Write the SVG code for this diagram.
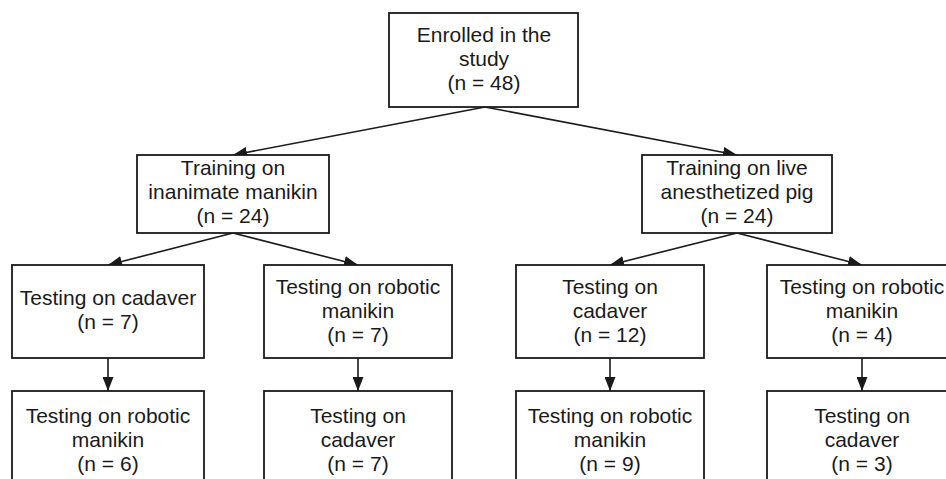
<svg xmlns="http://www.w3.org/2000/svg" width="946" height="479" viewBox="0 0 946 479">
<style>
.box{fill:#fff;stroke:#1a1a1a;stroke-width:1.8}
.t{font-family:"Liberation Sans",Arial,sans-serif;font-size:21px;fill:#1a1a1a;text-anchor:middle}
.c{stroke:#1a1a1a;stroke-width:1.6;fill:none}
</style>
<defs>
<marker id="ah" viewBox="0 0 14 11" refX="14" refY="5.5" markerWidth="14" markerHeight="11" markerUnits="userSpaceOnUse" orient="auto">
<path d="M0,0 L14,5.5 L0,11 z" fill="#1a1a1a"/>
</marker>
</defs>
<rect width="946" height="479" fill="#fff"/>
<g id="connectors">
<line class="c" x1="485" y1="107" x2="233" y2="155" marker-end="url(#ah)"/>
<line class="c" x1="485" y1="107" x2="737" y2="155" marker-end="url(#ah)"/>
<line class="c" x1="233" y1="233" x2="108" y2="265" marker-end="url(#ah)"/>
<line class="c" x1="233" y1="233" x2="358" y2="265" marker-end="url(#ah)"/>
<line class="c" x1="737" y1="233" x2="610" y2="265" marker-end="url(#ah)"/>
<line class="c" x1="737" y1="233" x2="862" y2="265" marker-end="url(#ah)"/>
<line class="c" x1="108" y1="358" x2="108" y2="391" marker-end="url(#ah)"/>
<line class="c" x1="358" y1="358" x2="358" y2="391" marker-end="url(#ah)"/>
<line class="c" x1="610" y1="358" x2="610" y2="391" marker-end="url(#ah)"/>
<line class="c" x1="862" y1="358" x2="862" y2="391" marker-end="url(#ah)"/>
</g>
<g id="enrolled">
<rect class="box" x="389" y="13" width="189" height="94"/>
<text class="t" x="484" y="42">Enrolled in the</text>
<text class="t" x="484" y="66">study</text>
<text class="t" x="484" y="90">(n = 48)</text>
</g>
<g id="train-manikin">
<rect class="box" x="137" y="155" width="192" height="78"/>
<text class="t" x="233" y="175">Training on</text>
<text class="t" x="233" y="199">inanimate manikin</text>
<text class="t" x="233" y="223">(n = 24)</text>
</g>
<g id="train-pig">
<rect class="box" x="642" y="155" width="190" height="78"/>
<text class="t" x="737" y="175">Training on live</text>
<text class="t" x="737" y="199">anesthetized pig</text>
<text class="t" x="737" y="223">(n = 24)</text>
</g>
<g id="test-cadaver-1">
<rect class="box" x="12" y="265" width="192" height="93"/>
<text class="t" x="108" y="305">Testing on cadaver</text>
<text class="t" x="108" y="329">(n = 7)</text>
</g>
<g id="test-robotic-1">
<rect class="box" x="264" y="265" width="188" height="93"/>
<text class="t" x="358" y="294">Testing on robotic</text>
<text class="t" x="358" y="318">manikin</text>
<text class="t" x="358" y="342">(n = 7)</text>
</g>
<g id="test-cadaver-2">
<rect class="box" x="516" y="265" width="188" height="93"/>
<text class="t" x="610" y="294">Testing on</text>
<text class="t" x="610" y="318">cadaver</text>
<text class="t" x="610" y="342">(n = 12)</text>
</g>
<g id="test-robotic-2">
<rect class="box" x="767" y="265" width="190" height="93"/>
<text class="t" x="862" y="294">Testing on robotic</text>
<text class="t" x="862" y="318">manikin</text>
<text class="t" x="862" y="342">(n = 4)</text>
</g>
<g id="then-robotic-1">
<rect class="box" x="12" y="391" width="192" height="93"/>
<text class="t" x="108" y="423">Testing on robotic</text>
<text class="t" x="108" y="447">manikin</text>
<text class="t" x="108" y="471">(n = 6)</text>
</g>
<g id="then-cadaver-1">
<rect class="box" x="264" y="391" width="188" height="93"/>
<text class="t" x="358" y="423">Testing on</text>
<text class="t" x="358" y="447">cadaver</text>
<text class="t" x="358" y="471">(n = 7)</text>
</g>
<g id="then-robotic-2">
<rect class="box" x="516" y="391" width="188" height="93"/>
<text class="t" x="610" y="423">Testing on robotic</text>
<text class="t" x="610" y="447">manikin</text>
<text class="t" x="610" y="471">(n = 9)</text>
</g>
<g id="then-cadaver-2">
<rect class="box" x="767" y="391" width="190" height="93"/>
<text class="t" x="862" y="423">Testing on</text>
<text class="t" x="862" y="447">cadaver</text>
<text class="t" x="862" y="471">(n = 3)</text>
</g>
</svg>
